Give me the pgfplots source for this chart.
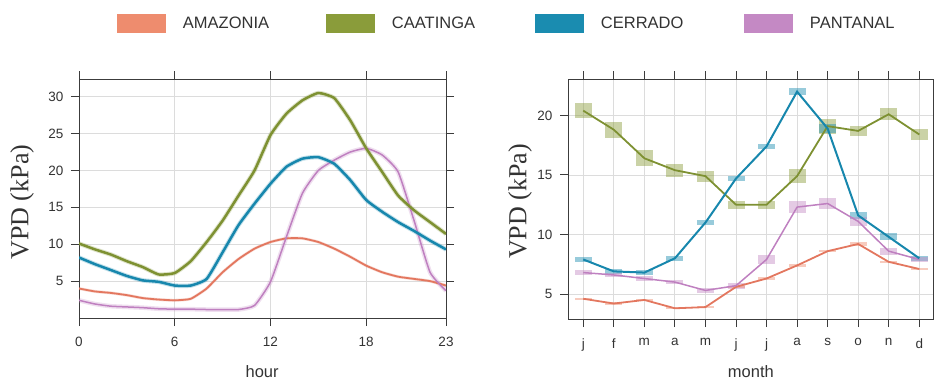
\documentclass[border=0pt]{standalone}
\usepackage{pgfplots}
\pgfplotsset{compat=1.18}
\usepackage{pgfplotstable}
\usepackage{fontspec}
\setmainfont{Liberation Sans}
\newfontfamily\seriffont{Liberation Serif}

\definecolor{amzL}{HTML}{EE8C6E}
\definecolor{caaL}{HTML}{8A9C3A}
\definecolor{cerL}{HTML}{1A8CB0}
\definecolor{panL}{HTML}{C489C4}
\definecolor{amz}{HTML}{E3775F}
\definecolor{caa}{HTML}{7E9132}
\definecolor{cer}{HTML}{1787AD}
\definecolor{pan}{HTML}{BF80C0}
\definecolor{axgray}{HTML}{3C3C3C}
\definecolor{gridgray}{HTML}{DCDCDC}
\definecolor{labgray}{HTML}{333333}

% hourly data
\pgfplotstableread{
h amz caa cer pan
0 4.0 10.1 8.2 2.4
1 3.6 9.3 7.3 1.9
2 3.4 8.6 6.5 1.6
3 3.1 7.7 5.7 1.5
4 2.7 6.9 5.1 1.4
5 2.5 5.9 4.9 1.25
6 2.4 6.1 4.4 1.2
7 2.6 7.7 4.4 1.2
8 4.0 10.3 5.3 1.15
9 6.2 13.2 8.9 1.15
10 8.0 16.6 12.6 1.15
11 9.4 20.0 15.5 1.7
12 10.3 24.8 18.2 4.9
13 10.8 27.7 20.5 11.0
14 10.8 29.5 21.6 16.9
15 10.3 30.5 21.8 20.0
16 9.4 29.8 20.9 21.4
17 8.3 26.8 18.7 22.5
18 7.1 23.0 16.0 23.0
19 6.2 19.8 14.4 22.1
20 5.6 16.6 13.0 19.8
21 5.3 14.6 11.8 13.2
22 5.0 13.0 10.5 6.2
23 4.4 11.4 9.3 3.7
}\hourly

% monthly data: value and half-height of the interval box
\pgfplotstableread{
m amz amze caa caae cer cere pan pane
1 4.6 0.1 20.4 0.63 7.9 0.2 6.8 0.2
2 4.2 0.1 18.8 0.67 6.9 0.2 6.6 0.2
3 4.5 0.1 16.4 0.67 6.8 0.2 6.3 0.2
4 3.8 0.1 15.4 0.55 8.0 0.2 6.0 0.2
5 3.9 0.1 14.9 0.46 11.0 0.2 5.3 0.2
6 5.6 0.1 12.5 0.35 14.7 0.2 5.7 0.25
7 6.3 0.1 12.5 0.35 17.4 0.2 7.9 0.4
8 7.4 0.1 14.9 0.56 22.0 0.3 12.3 0.5
9 8.6 0.1 19.1 0.63 18.9 0.4 12.6 0.5
10 9.2 0.15 18.7 0.4 11.6 0.3 11.1 0.4
11 7.7 0.1 20.1 0.5 9.8 0.3 8.6 0.3
12 7.1 0.1 18.4 0.45 8.0 0.2 7.9 0.2
}\monthly

\pgfplotsset{
  lattice/.style={
    scale only axis,
    axis line style={axgray, line width=1pt},
    tick align=outside,
    major tick length=8pt,
    tick style={axgray, line width=1pt},
    grid=major,
    major grid style={gridgray, line width=0.9pt},
    ticklabel style={font=\fontsize{13.5}{15}\selectfont, text=labgray},
    /pgf/number format/assume math mode=true,
    yticklabel style={xshift=-4pt},
    xticklabel style={yshift=-8pt},
  },
  bandline/.style={line width=4.5pt, opacity=0.25, forget plot, smooth, tension=0.3},
  ebox/.style={only marks, mark=*, mark size=0pt, mark options={draw=none, fill=none}, forget plot,
    error bars/.cd, y dir=both, y explicit, error mark=none,
    error bar style={line width=17pt, line cap=butt, opacity=0.45, #1}},
}

\begin{document}
\begin{tikzpicture}
\path[use as bounding box] (0pt,0pt) rectangle (934pt,-380pt);

\begin{axis}[lattice,
  at={(79pt,-318pt)}, anchor=south west,
  width=367pt, height=239pt,
  xmin=0, xmax=23, ymin=0, ymax=32.4,
  xtick={0,6,12,18,23}, ytick={5,10,15,20,25,30},
  xlabel={hour}, ylabel={VPD (kPa)},
  every axis x label/.style={at={(axis description cs:0.499,-0.226)}, anchor=center,
    font=\fontsize{16.5}{19}\selectfont, text=labgray},
  every axis y label/.style={at={(axis description cs:-0.155,0.485)}, anchor=center, rotate=90,
    font=\seriffont\fontsize{26}{30}\selectfont, text=labgray},
  legend columns=4,
  legend style={at={(axis description cs:0.1035,1.232)}, anchor=west,
    draw=none, fill=none, inner sep=0pt, outer sep=0pt,
    column sep=0pt, font=\fontsize{16.5}{19}\selectfont,
    nodes={inner sep=0pt, text=black!80}},
  legend image code/.code={\path[#1, draw=none] (0pt,-9.5pt) rectangle (49pt,9.5pt);},
]
\addlegendimage{fill=amzL}
\addlegendentry{\hspace{17pt}\makebox[143pt][l]{AMAZONIA}}
\addlegendimage{fill=caaL}
\addlegendentry{\hspace{17pt}\makebox[143pt][l]{CAATINGA}}
\addlegendimage{fill=cerL}
\addlegendentry{\hspace{17pt}\makebox[143pt][l]{CERRADO}}
\addlegendimage{fill=panL}
\addlegendentry{\hspace{17pt}\makebox[143pt][l]{PANTANAL}}

\addplot[bandline, caa, mark=none] table[x=h, y=caa] {\hourly};
\addplot[bandline, cer, mark=none] table[x=h, y=cer] {\hourly};
\addplot[bandline, pan, mark=none] table[x=h, y=pan] {\hourly};
\addplot[bandline, amz, line width=3pt, mark=none] table[x=h, y=amz] {\hourly};
\addplot[amz, line width=1.8pt, forget plot, mark=none, smooth, tension=0.3] table[x=h, y=amz] {\hourly};
\addplot[pan, line width=1.5pt, forget plot, mark=none, smooth, tension=0.3] table[x=h, y=pan] {\hourly};
\addplot[cer, line width=2.5pt, forget plot, mark=none, smooth, tension=0.3] table[x=h, y=cer] {\hourly};
\addplot[caa, line width=2.5pt, forget plot, mark=none, smooth, tension=0.3] table[x=h, y=caa] {\hourly};
\end{axis}

\begin{axis}[lattice,
  at={(568pt,-319pt)}, anchor=south west,
  width=365pt, height=240pt,
  xmin=0.5, xmax=12.45, ymin=2.9, ymax=23.06,
  xtick={1,...,12}, xticklabels={j,f,m,a,m,j,j,a,s,o,n,d},
  ytick={5,10,15,20},
  xlabel={month}, ylabel={VPD (kPa)},
  every axis x label/.style={at={(axis description cs:0.501,-0.221)}, anchor=center,
    font=\fontsize{16.5}{19}\selectfont, text=labgray},
  every axis y label/.style={at={(axis description cs:-0.131,0.49)}, anchor=center, rotate=90,
    font=\seriffont\fontsize{26}{30}\selectfont, text=labgray},
]
\addplot[ebox={draw=caaL}] table[x=m, y=caa, y error=caae] {\monthly};
\addplot[ebox={draw=cerL}] table[x=m, y=cer, y error=cere] {\monthly};
\addplot[ebox={draw=panL}] table[x=m, y=pan, y error=pane] {\monthly};
\addplot[ebox={draw=amzL}] table[x=m, y=amz, y error=amze] {\monthly};
\addplot[amz, line width=1.8pt, mark=none] table[x=m, y=amz] {\monthly};
\addplot[pan, line width=1.5pt, mark=none] table[x=m, y=pan] {\monthly};
\addplot[caa, line width=1.8pt, mark=none] table[x=m, y=caa] {\monthly};
\addplot[cer, line width=2pt, mark=none] table[x=m, y=cer] {\monthly};
\end{axis}
\end{tikzpicture}
\end{document}
